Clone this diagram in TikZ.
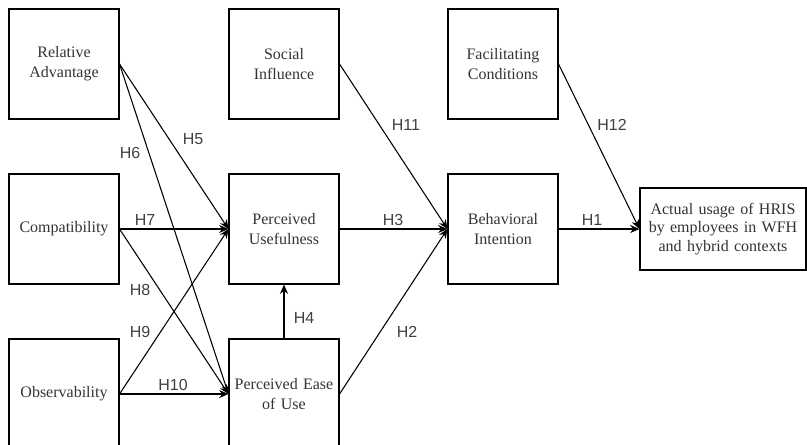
\documentclass[tikz,border=0pt]{standalone}
\usepackage{fontspec}
\setmainfont{Liberation Serif}
\newfontfamily\hypfont{Liberation Sans}
\usetikzlibrary{arrows.meta}

\tikzset{
  construct/.style={draw, line width=0.8pt, minimum width=82.5pt, minimum height=82.5pt,
    inner sep=2pt, text width=78pt, align=center, text=black!80,
    font=\fontsize{12}{15}\selectfont},
  outcome/.style={construct, minimum width=124.5pt, minimum height=61.5pt, text width=116pt,
    font=\fontsize{12}{14}\selectfont},
  hyp/.style={inner sep=0pt, text=black!75, font=\hypfont\fontsize{12}{14}\selectfont},
  link/.style={line width=0.8pt, -{Stealth[length=7pt,width=6pt]}},
}

\begin{document}
\begin{tikzpicture}[x=0.75pt, y=-0.75pt]
  \useasboundingbox (0,0) rectangle (807,444);
  \clip (0,0) rectangle (807,444);

  \node[construct] (rel) at (64,64) {Relative\\Advantage};
  \node[construct] (soc) at (284,64) {Social\\Influence};
  \node[construct] (fac) at (503,64) {Facilitating\\Conditions};
  \node[construct] (comp) at (64,229) {Compatibility};
  \node[construct] (pu) at (284,229) {Perceived\\Usefulness};
  \node[construct] (bi) at (503,229) {Behavioral\\Intention};
  \node[construct] (obs) at (64,394) {Observability};
  \node[construct] (peou) at (284,394) {Perceived Ease\\of Use};
  \node[outcome] (use) at (723,229) {Actual usage of HRIS\\by employees in WFH\\and hybrid contexts};

  \draw[link] (rel.east) -- (pu.west);
  \draw[link] (rel.east) -- (peou.west);
  \draw[link] (comp.east) -- (pu.west);
  \draw[link] (comp.east) -- (peou.west);
  \draw[link] (obs.east) -- (pu.west);
  \draw[link] (obs.east) -- (peou.west);
  \draw[link] (peou.north) -- (pu.south);
  \draw[link] (pu.east) -- (bi.west);
  \draw[link] (soc.east) -- (bi.west);
  \draw[link] (peou.east) -- (bi.west);
  \draw[link] (fac.east) -- (use.west);
  \draw[link] (bi.east) -- (use.west);

  \node[hyp] (h5) at (193,139) {H5};
  \node[hyp] (h6) at (130,153) {H6};
  \node[hyp] (h7) at (145,220) {H7};
  \node[hyp] (h8) at (140,290) {H8};
  \node[hyp] (h9) at (140,332) {H9};
  \node[hyp] (h10) at (173,385) {H10};
  \node[hyp] (h4) at (304,318) {H4};
  \node[hyp] (h3) at (393,220) {H3};
  \node[hyp] (h2) at (407,332) {H2};
  \node[hyp] (h11) at (406,125) {H11};
  \node[hyp] (h12) at (612,125) {H12};
  \node[hyp] (h1) at (592,220) {H1};
\end{tikzpicture}
\end{document}
